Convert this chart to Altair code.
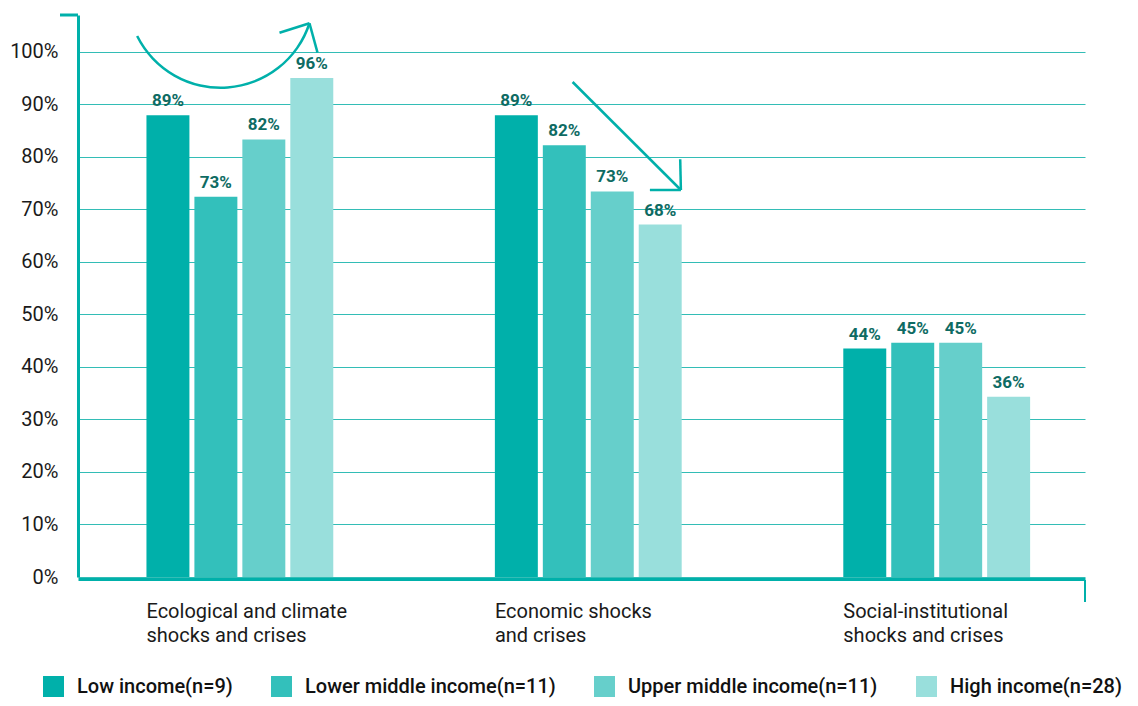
import altair as alt
import pandas as pd

categories = [
    "Ecological and climate shocks and crises",
    "Economic shocks and crises",
    "Social-institutional shocks and crises",
]
category_lines = [
    ["Ecological and climate", "shocks and crises"],
    ["Economic shocks", "and crises"],
    ["Social-institutional", "shocks and crises"],
]
groups = [
    "Low income(n=9)",
    "Lower middle income(n=11)",
    "Upper middle income(n=11)",
    "High income(n=28)",
]
colors = ["#00b0aa", "#33c0bb", "#66cfcb", "#99dfdc"]

# bar heights as drawn (percent), per category
low_income = [87.9, 87.9, 43.5]
lower_middle = [72.4, 82.2, 44.6]
upper_middle = [83.3, 73.4, 44.6]
high_income = [95.0, 67.1, 34.3]

# printed labels (percent)
low_labels = [89, 89, 44]
lower_middle_labels = [73, 82, 45]
upper_middle_labels = [82, 73, 45]
high_labels = [96, 68, 36]

y_ticks = [0, 10, 20, 30, 40, 50, 60, 70, 80, 90, 100]

series = [low_income, lower_middle, upper_middle, high_income]
series_labels = [low_labels, lower_middle_labels, upper_middle_labels, high_labels]

rows = []
for gi, g in enumerate(groups):
    for ci, c in enumerate(categories):
        rows.append({
            "category": c,
            "group": g,
            "value": series[gi][ci],
            "label": f"{series_labels[gi][ci]}%",
        })
df = pd.DataFrame(rows)

TEAL = "#00b0aa"
W, H = 1007, 562
BAND = 186.8

label_expr = ""
for c, lines in zip(categories, category_lines):
    label_expr += "datum.value == '%s' ? ['%s', '%s'] : " % (c, lines[0], lines[1])
label_expr += "datum.value"

x_enc = alt.X(
    "category:N",
    sort=categories,
    scale=alt.Scale(paddingInner=0.4638, paddingOuter=0.177, align=0.555),
    axis=alt.Axis(
        title=None,
        labelExpr=label_expr,
        labelAlign="left",
        labelOffset=-BAND / 2,
        labelBaseline="top",
        labelPadding=22,
        labelLineHeight=24,
        labelFontSize=20,
        labelLimit=400,
        labelColor="#1a1a1a",
        labelFont="Roboto",
        labelAngle=0,
        domainColor=TEAL,
        domainWidth=3,
        ticks=False,
        offset=2,
    ),
)
xoff_enc = alt.XOffset(
    "group:N", sort=groups, scale=alt.Scale(paddingInner=0.104, paddingOuter=0)
)
y_enc = alt.Y(
    "value:Q",
    scale=alt.Scale(domain=[0, 107], nice=False),
    axis=alt.Axis(
        title=None,
        values=y_ticks,
        labelExpr="datum.value + '%'",
        grid=True,
        gridColor="#33bdb6",
        gridWidth=1,
        domainColor=TEAL,
        domainWidth=3,
        ticks=False,
        tickSize=0,
        labelPadding=20,
        labelFontSize=20,
        labelColor="#1a1a1a",
        labelFont="Roboto",
    ),
)

base = alt.Chart(df).encode(x=x_enc, xOffset=xoff_enc, y=y_enc)

bars = base.mark_bar().encode(
    color=alt.Color(
        "group:N",
        sort=groups,
        scale=alt.Scale(domain=groups, range=colors),
        legend=alt.Legend(
            title=None,
            orient="none",
            legendX=-35,
            legendY=661,
            direction="horizontal",
            columns=4,
            symbolType="square",
            symbolSize=440,
            symbolStrokeWidth=0,
            symbolOpacity=1,
            labelFontSize=20,
            labelFont="Roboto",
            labelFontWeight=500,
            labelColor="#111111",
            labelOffset=13,
            labelLimit=500,
            columnPadding=38,
            padding=0,
        ),
    )
)

texts = base.mark_text(
    dy=-9, baseline="alphabetic", fontWeight="bold", fontSize=17,
    color="#0e6b63", font="Roboto"
).encode(text="label:N")

one = pd.DataFrame({"k": [0]})

# curved arrow arc
arc = alt.Chart(one).mark_arc(
    theta=1.885, theta2=4.25, radius=94.6, radius2=92.1, color=TEAL
).encode(x=alt.value(142.7), y=alt.value(-20.6))

segments = pd.DataFrame({
    "x": [201.5, 239.5, 494.6, 602.2, 571.9, -18, W],
    "x2": [231.5, 231.5, 602.9, 602.9, 602.9, 0, W],
    "y": [17.7, 37.7, 67, 144.3, 175, 0, H + 3],
    "y2": [8.3, 8.3, 175, 175, 175, 0, H + 25],
    "w": [2.5, 2.5, 2.5, 2.5, 2.5, 3, 2],
})

seg_layers = []
for _, r in segments.iterrows():
    seg_layers.append(
        alt.Chart(one).mark_rule(color=TEAL, strokeWidth=float(r["w"])).encode(
            x=alt.value(float(r["x"])), x2=alt.value(float(r["x2"])),
            y=alt.value(float(r["y"])), y2=alt.value(float(r["y2"])),
        )
    )

chart = alt.layer(bars, texts, arc, *seg_layers).properties(
    width=W,
    height=H,
    padding={"left": 70, "top": 7, "right": 45, "bottom": 121},
    autosize=alt.AutoSizeParams(type="none"),
).configure_view(stroke=None)

chart.save("out.html", embed_options={"renderer": "svg", "actions": False})
